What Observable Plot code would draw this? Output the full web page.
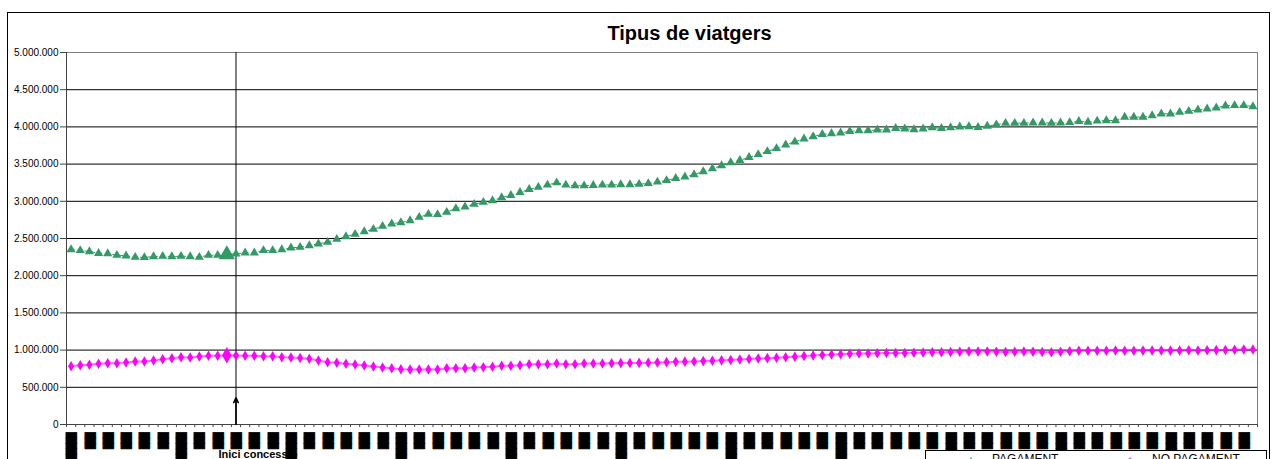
<!DOCTYPE html>
<html><head><meta charset="utf-8">
<script src="https://cdn.jsdelivr.net/npm/d3@7"></script>
<script src="https://cdn.jsdelivr.net/npm/@observablehq/plot@0.6"></script>
<style>
body{margin:0;background:#fff;}
#wrap{position:relative;width:1276px;height:459px;overflow:hidden;font-family:"Liberation Sans",Arial,sans-serif;background:#fff;}
#chart{position:absolute;left:0;top:0;}
#frame{position:absolute;left:7px;top:12px;width:1261px;height:470px;border:1px solid #000;pointer-events:none;}
#legend{position:absolute;left:925px;top:450px;width:340px;height:30px;border:1px solid #000;background:#fff;}
#legend span{position:absolute;top:2.4px;font-size:12px;line-height:12px;color:#000;white-space:nowrap;}
#legend svg{position:absolute;left:0;top:0;}
</style></head>
<body>
<div id="wrap">
  <div id="chart"></div>
  <div id="frame"></div>
  <div id="legend">
    <svg width="340" height="30">
      <line x1="28" x2="62" y1="11" y2="11" stroke="#339966" stroke-dasharray="3,3"/>
      <path d="M45,6 L49.5,14 L40.5,14 Z" fill="#339966"/>
      <line x1="186" x2="222" y1="11" y2="11" stroke="#ff00ff" stroke-width="2" stroke-opacity="0.6"/>
      <path d="M204,6.5 L208,10.5 L204,14.5 L200,10.5 Z" fill="#ff00ff"/>
    </svg>
    <span id="lg1" style="left:66px"></span>
    <span id="lg2" style="left:226px"></span>
  </div>
</div>
<script>
const title = "Tipus de viatgers";
const seriesNames = ["PAGAMENT", "NO PAGAMENT"];
const annotationLabel = "Inici concessió";
const annotationIndex = 18;
const annotationArrowTop = 360000;
const highlightIndex = 17;

const pagament = [
2352000,2339000,2325000,2302000,2298000,2276000,2268000,2249000,2245000,2258000,
2262000,2258000,2262000,2258000,2249000,2276000,2276000,2285000,2294000,2308000,
2308000,2339000,2339000,2352000,2375000,2383000,2406000,2429000,2450000,2491000,
2527000,2558000,2594000,2625000,2665000,2698000,2715000,2742000,2786000,2827000,
2823000,2854000,2903000,2926000,2961000,2988000,3011000,3050000,3080000,3120000,
3160000,3190000,3220000,3250000,3220000,3210000,3210000,3215000,3220000,3220000,
3225000,3225000,3230000,3240000,3260000,3280000,3310000,3330000,3360000,3400000,
3440000,3480000,3520000,3550000,3590000,3630000,3670000,3710000,3760000,3800000,
3840000,3870000,3900000,3910000,3920000,3940000,3950000,3950000,3960000,3960000,
3980000,3975000,3965000,3975000,3990000,3980000,3990000,4000000,4005000,3995000,
4010000,4030000,4050000,4050000,4050000,4055000,4055000,4050000,4055000,4060000,
4075000,4065000,4080000,4086000,4086000,4131000,4131000,4131000,4153000,4176000,
4176000,4198000,4211000,4230000,4243000,4257000,4284000,4288000,4288000,4274000
];

const noPagament = [
784000,797000,802000,816000,824000,824000,833000,847000,847000,860000,
878000,891000,905000,900000,914000,923000,923000,932000,927000,923000,
923000,918000,918000,905000,900000,895000,885000,860000,837000,829000,
816000,806000,793000,780000,766000,757000,743000,739000,739000,739000,
739000,757000,757000,757000,766000,770000,775000,789000,789000,797000,
810000,810000,810000,820000,810000,810000,820000,820000,820000,822000,
825000,826000,828000,830000,835000,838000,842000,845000,848000,852000,
858000,862000,868000,874000,880000,886000,892000,898000,905000,912000,
920000,928000,935000,940000,945000,950000,953000,955000,958000,960000,
962000,962000,965000,968000,970000,972000,975000,978000,980000,980000,
982000,978000,975000,978000,980000,978000,975000,972000,978000,985000,
990000,992000,990000,992000,995000,992000,990000,993000,995000,995000,
993000,995000,997000,995000,998000,1000000,1002000,1005000,1008000,1008000
];

const yTicks = [0,500000,1000000,1500000,2000000,2500000,3000000,3500000,4000000,4500000,5000000];

// garbled (unreadable) category labels, one per two categories, rendered as blocks
const S = "\u2588\u2588\u2588", L = "\u2588\u2588\u2588\u2588\u2588\u2588\u2588\u2588";
const tickLabels = [
L,S,S,S,S,S, L,S,S,S,S,S, L,S,S,S,S,S, L,S,S,S,S,S, L,S,S,S,S,S,
L,S,S,S,S,S, L,S,S,S,S,S, L,S,S,S,S,S, L,S,S,S,S,S, L,S,S,S,S,S,
L,S,S,S,S
];

document.getElementById("lg1").textContent = seriesNames[0];
document.getElementById("lg2").textContent = seriesNames[1];

const n = pagament.length;
const rows = pagament.map((v, i) => ({i, pag: v, nopag: noPagament[i]}));
const xTicks = d3.range(0, n + 1);
const labelRows = tickLabels.map((s, k) => ({i: k * 2, s}));
const fmt = d3.formatLocale({decimal: ",", thousands: ".", grouping: [3], currency: ["", ""]}).format(",");
const X = d => d.i + 0.5;

const chart = Plot.plot({
  width: 1276, height: 459,
  marginLeft: 66, marginRight: 19, marginTop: 52, marginBottom: 35,
  style: {background: "transparent", fontFamily: "'Liberation Sans', Arial, sans-serif", fontSize: "10px", color: "#000", overflow: "visible"},
  x: {type: "linear", domain: [0, n], axis: null},
  y: {domain: [0, 5000000], axis: null},
  marks: [
    Plot.gridY(yTicks, {stroke: "#000", strokeOpacity: 1}),
    Plot.frame({stroke: "#808080"}),
    Plot.ruleX([0], {stroke: "#444"}),
    Plot.ruleY([0], {stroke: "#444"}),
    Plot.axisY(yTicks, {tickSize: 6, tickPadding: 2, tickFormat: fmt, fontSize: 10, stroke: "#444", fill: "#000"}),
    Plot.axisX(xTicks, {tickSize: 3, tickFormat: () => "", stroke: "#444"}),
    Plot.ruleX([annotationIndex], {x: d => d + 0.5, stroke: "#000", strokeWidth: 1}),
    Plot.arrow([annotationIndex], {x1: d => d + 0.5, x2: d => d + 0.5, y1: 0, y2: annotationArrowTop, stroke: "#000", strokeWidth: 1.6, headLength: 5, headAngle: 50}),
    Plot.text([annotationLabel], {x: () => annotationIndex + 0.5, frameAnchor: "bottom", dx: -17.5, dy: 33.5, textAnchor: "start", lineAnchor: "bottom", fontSize: 11, fontWeight: "bold", fill: "#000"}),
    Plot.text(labelRows, {x: X, frameAnchor: "bottom", dy: 8, text: "s", rotate: 90, textAnchor: "start", lineAnchor: "middle", fontFamily: "DejaVu Sans Mono", fontSize: 9, fill: "#000", stroke: "#000", strokeWidth: 0.9}),
    Plot.line(rows, {x: X, y: "pag", stroke: "#339966", strokeWidth: 1, strokeDasharray: "3,4"}),
    Plot.line(rows, {x: X, y: "nopag", stroke: "#ff00ff", strokeWidth: 2, strokeOpacity: 0.6}),
    Plot.dot(rows, {x: X, y: "pag", symbol: "triangle", r: 3.4, fill: "#339966", stroke: "none"}),
    Plot.dot(rows, {x: X, y: "nopag", symbol: "diamond", r: 3.2, fill: "#ff00ff", stroke: "none"}),
    Plot.dot(rows.filter(d => d.i === highlightIndex), {x: X, y: "pag", symbol: "triangle", r: 6, fill: "#339966", stroke: "none"}),
    Plot.dot(rows.filter(d => d.i === highlightIndex), {x: X, y: "nopag", symbol: "diamond", r: 5, fill: "#ff00ff", stroke: "none"}),
    Plot.text([title], {frameAnchor: "top", dx: 27.5, dy: -13, lineAnchor: "bottom", fontSize: 20, fontWeight: "bold", fill: "#000"})
  ]
});
document.getElementById("chart").appendChild(chart);
</script>
</body></html>
